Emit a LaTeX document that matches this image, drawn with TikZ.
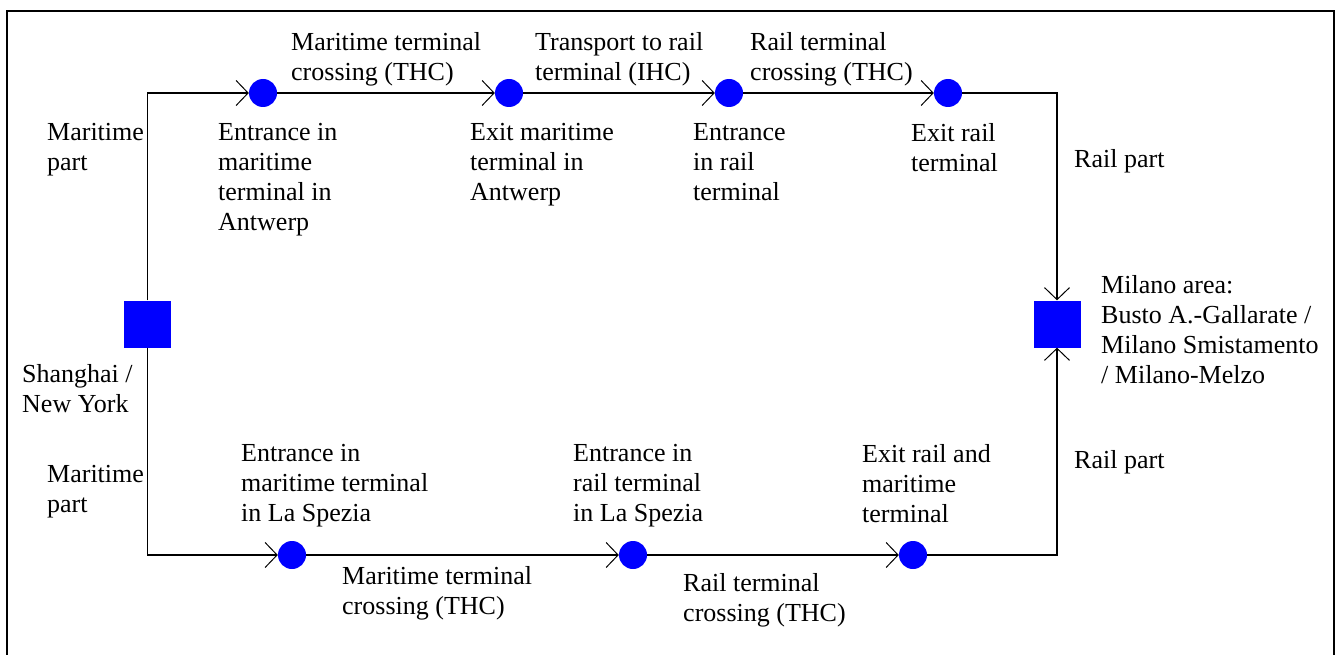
\documentclass[tikz,border=0pt]{standalone}
\usepackage{fontspec}
\setmainfont{Liberation Serif}
\usetikzlibrary{arrows.meta}
\begin{document}
\begin{tikzpicture}[x=1pt,y=-1pt,
  stop/.style={circle,fill=blue,draw=none,minimum size=28pt,inner sep=0pt},
  city/.style={rectangle,fill=blue,draw=none,minimum size=47pt,inner sep=0pt},
  lbl/.style={anchor=north west,inner sep=0pt,align=left,font=\fontsize{26}{30}\selectfont},
  conn/.style={line width=1.3pt,-{Straight Barb[length=12pt,width=25pt,line width=1pt]}},
  plain/.style={line width=1.3pt}]
\useasboundingbox (0,0) rectangle (1336,655);
\draw[line width=2.5pt] (7,656) -- (7,11) -- (1334,11) -- (1334,656);
% nodes
\node[city] (sL) at (147.5,324) {};
\node[city] (sR) at (1057,324) {};
\node[stop] (c1) at (263,93) {};
\node[stop] (c2) at (509,93) {};
\node[stop] (c3) at (729,93) {};
\node[stop] (c4) at (948,93) {};
\node[stop] (d1) at (292,555) {};
\node[stop] (d2) at (633,555) {};
\node[stop] (d3) at (913,555) {};
% connectors
\draw[conn] (sL.north) |- (c1.west);
\draw[conn] (c1.east) -- (c2.west);
\draw[conn] (c2.east) -- (c3.west);
\draw[conn] (c3.east) -- (c4.west);
\draw[conn] (c4.east) -| (sR.north);
\draw[conn] (sL.south) |- (d1.west);
\draw[conn] (d1.east) -- (d2.west);
\draw[conn] (d2.east) -- (d3.west);
\draw[conn] (d3.east) -| (sR.south);
% labels
\node[lbl] (t1) at (291,32) {Maritime terminal\\crossing (THC)};
\node[lbl] (t2) at (535,32) {Transport to rail\\terminal (IHC)};
\node[lbl] (t3) at (750,32) {Rail terminal\\crossing (THC)};
\node[lbl] (m1) at (47,123) {Maritime\\part};
\node[lbl] (e1) at (218,123) {Entrance in\\maritime\\terminal in\\Antwerp};
\node[lbl] (e2) at (470,123) {Exit maritime\\terminal in\\Antwerp};
\node[lbl] (e3) at (693,123) {Entrance\\in rail\\terminal};
\node[lbl] (e4) at (911,123) {Exit rail\\terminal};
\node[lbl] (r1) at (1074,149) {Rail part};
\node[lbl] (mil) at (1101,275) {Milano area:\\Busto A.-Gallarate /\\Milano Smistamento\\/ Milano-Melzo};
\node[lbl] (sh) at (22,364) {Shanghai /\\New York};
\node[lbl] (m2) at (47,465) {Maritime\\part};
\node[lbl] (f1) at (241,444) {Entrance in\\maritime terminal\\in La Spezia};
\node[lbl] (f2) at (573,444) {Entrance in\\rail terminal\\in La Spezia};
\node[lbl] (f3) at (862,444) {Exit rail and\\maritime\\terminal};
\node[lbl] (r2) at (1074,450) {Rail part};
\node[lbl] (b1) at (342,566) {Maritime terminal\\crossing (THC)};
\node[lbl] (b2) at (683,573) {Rail terminal\\crossing (THC)};
\end{tikzpicture}
\end{document}
